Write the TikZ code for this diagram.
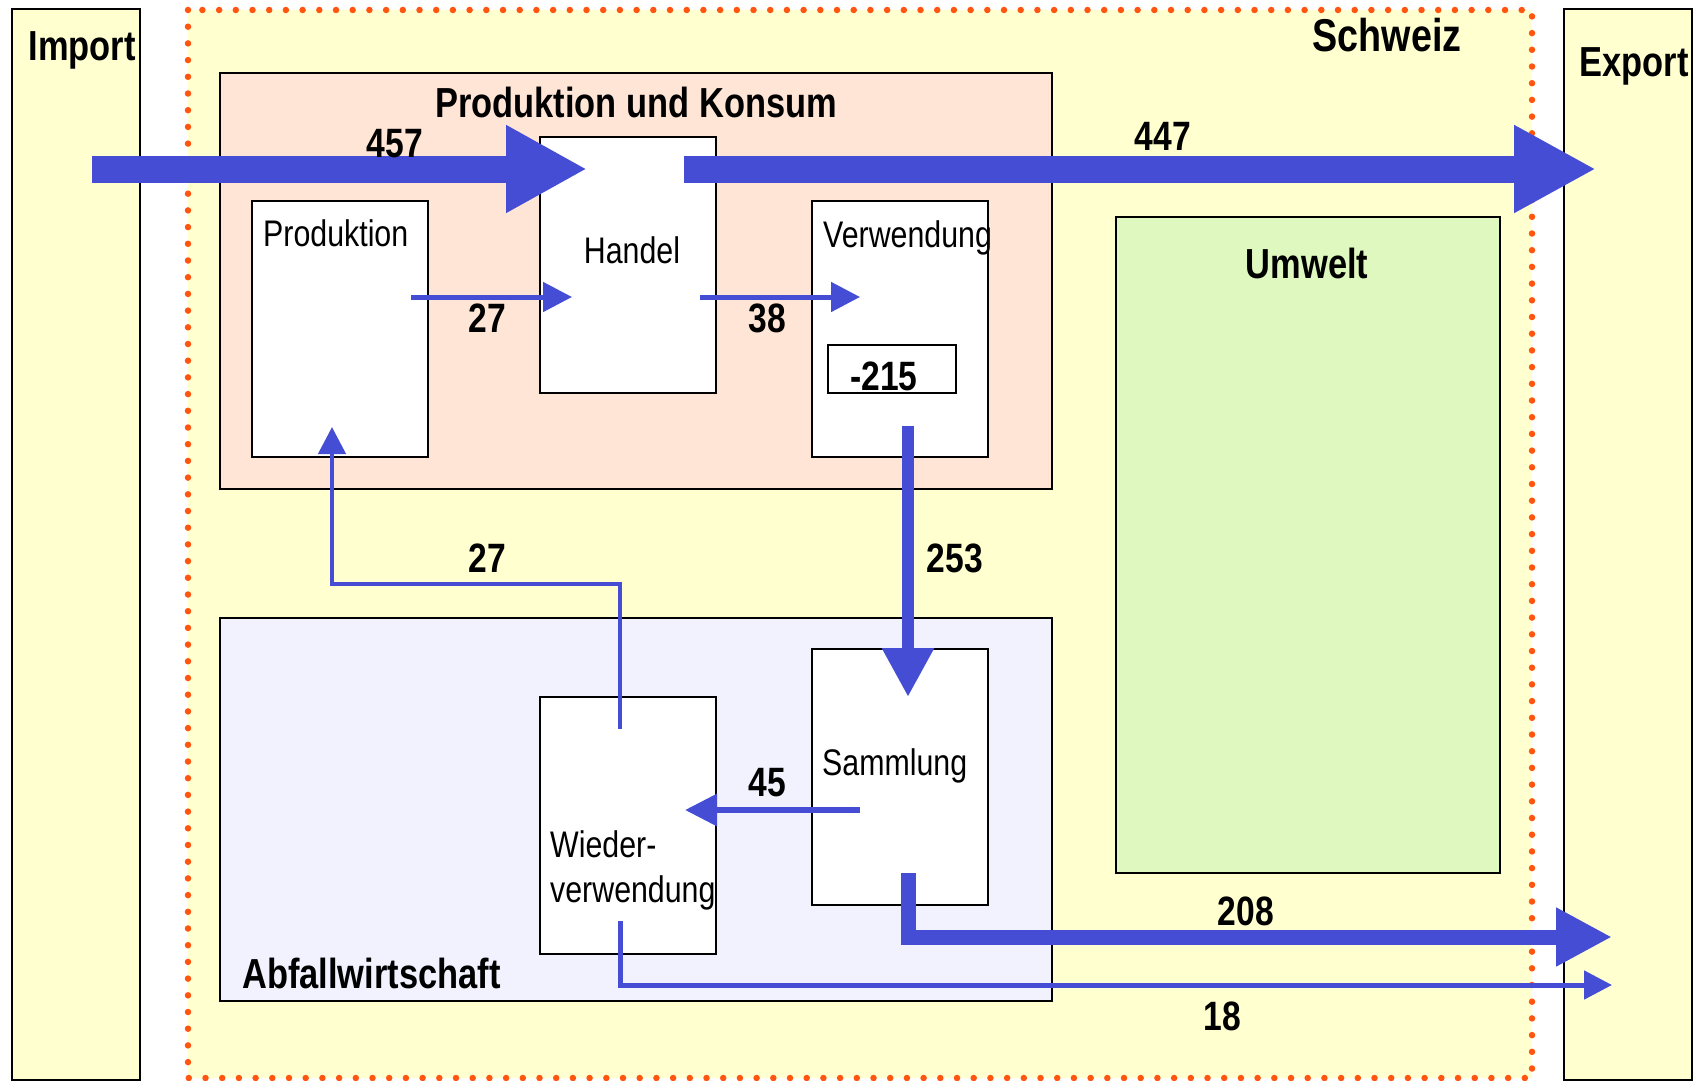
\documentclass[tikz,border=0pt]{standalone}
\usepackage{fontspec}
\setmainfont{Liberation Sans}[FakeStretch=0.82]
\usetikzlibrary{arrows.meta}
\definecolor{bgyel}{HTML}{FFFFD0}
\definecolor{peach}{HTML}{FFE5D5}
\definecolor{lav}{HTML}{F2F2FF}
\definecolor{ugreen}{HTML}{DFF8C0}
\definecolor{flowc}{HTML}{444DD4}
\definecolor{dotor}{HTML}{FF5511}
\begin{document}
\begin{tikzpicture}[x=1pt,y=-1pt,
  box/.style={draw=black, line width=1.6pt, anchor=north west, inner sep=0pt, outer sep=0pt},
  head/.style={font=\fontsize{42}{50}\selectfont\bfseries, inner sep=0pt, anchor=base},
  num/.style={font=\fontsize{41}{48}\selectfont\bfseries, inner sep=0pt, anchor=base},
  lbl/.style={font=\fontsize{37}{44}\selectfont, inner sep=0pt, anchor=base west},
  flowline/.style={draw=flowc, line width=#1},
]
\useasboundingbox (0,0) rectangle (1702,1081);
\fill[white] (0,0) rectangle (1702,1081);
% Schweiz region
\fill[bgyel] (188,10) rectangle (1532,1078);
\draw[dotor, line width=6.5pt, line cap=round, dash pattern=on 0pt off 16.7pt] (188,10) rectangle (1532,1078);
% outer boxes
\node[box, fill=bgyel, minimum width=128pt, minimum height=1071pt] (import) at (12,9) {};
\node[box, fill=bgyel, minimum width=128pt, minimum height=1071pt] (export) at (1564,9) {};
\node[box, fill=peach, minimum width=832pt, minimum height=416pt] (pk) at (220,73) {};
\node[box, fill=white, minimum width=176pt, minimum height=256pt] (prod) at (252,201) {};
\node[box, fill=white, minimum width=176pt, minimum height=256pt] (handel) at (540,137) {};
\node[box, fill=white, minimum width=176pt, minimum height=256pt] (verw) at (812,201) {};
\node[box, fill=white, minimum width=128pt, minimum height=48pt] (lager) at (828,345) {};
\node[box, fill=ugreen, minimum width=384pt, minimum height=656pt] (umwelt) at (1116,217) {};
\node[box, fill=lav, minimum width=832pt, minimum height=383pt] (abfall) at (220,618) {};
\node[box, fill=white, minimum width=176pt, minimum height=257pt] (wieder) at (540,697) {};
\node[box, fill=white, minimum width=176pt, minimum height=256pt] (samml) at (812,649) {};
% texts
\node[head] (timport) at (82,61) {Import};
\node[head] (texport) at (1634,77) {Export};
\node[head, font=\fontsize{46}{54}\selectfont\bfseries] (tschweiz) at (1387,52) {Schweiz};
\node[head] (tpk) at (636,117) {Produktion und Konsum};
\node[head] (tumwelt) at (1307,278) {Umwelt};
\node[head, anchor=base west] (tabfall) at (242,988) {Abfallwirtschaft};
\node[lbl] (tprod) at (263,246) {Produktion};
\node[lbl, anchor=base] (thandel) at (632,263) {Handel};
\node[lbl] (tverw) at (823,247) {Verwendung};
\node[lbl] (tsamml) at (822,775) {Sammlung};
\node[lbl] (twieder1) at (550,857) {Wieder-};
\node[lbl] (twieder2) at (550,902) {verwendung};
\node[num] (tlager) at (884,390) {-215};
% flow coordinates
\coordinate (f1s) at (92,169);   \coordinate (f1e) at (587,169);
\coordinate (f2s) at (684,169);  \coordinate (f2e) at (1596,169);
\coordinate (f3s) at (411,297);  \coordinate (f3e) at (572,297);
\coordinate (f4s) at (700,297);  \coordinate (f4e) at (860,297);
\coordinate (f5s) at (908,426);  \coordinate (f5e) at (908,697);
\coordinate (f6s) at (860,810);  \coordinate (f6e) at (685,810);
\coordinate (f7s) at (620,729);  \coordinate (f7e) at (332,427);
\coordinate (f8s) at (908,873);  \coordinate (f8e) at (1612,937);
\coordinate (f9s) at (620,921);  \coordinate (f9e) at (1612,985);
% flows
\draw[flowline=27pt, -{Triangle[length=81pt,width=82pt]}] (f1s) -- (f1e);
\draw[flowline=27pt, -{Triangle[length=82pt,width=82pt]}] (f2s) -- (f2e);
\draw[flowline=5pt, -{Triangle[length=29pt,width=29pt]}] (f3s) -- (f3e);
\draw[flowline=5pt, -{Triangle[length=29pt,width=29pt]}] (f4s) -- (f4e);
\draw[flowline=12pt, -{Triangle[length=49pt,width=49pt]}] (f5s) -- (f5e);
\draw[flowline=6pt, -{Triangle[length=32pt,width=31pt]}] (f6s) -- (f6e);
\draw[flowline=4.5pt, -{Triangle[length=27pt,width=27pt]}] (f7s) |- (332,584) -- (f7e);
\draw[flowline=15pt, -{Triangle[length=56pt,width=55pt]}] (f8s) |- (f8e);
\draw[flowline=5pt, -{Triangle[length=28pt,width=28pt]}] (f9s) |- (f9e);
% flow labels
\node[num] (n457) at (395,157) {457};
\node[num] (n447) at (1163,150) {447};
\node[num] (n27a) at (487,332) {27};
\node[num] (n38) at (767,332) {38};
\node[num] (n27b) at (487,572) {27};
\node[num] (n253) at (955,572) {253};
\node[num] (n45) at (767,796) {45};
\node[num] (n208) at (1246,925) {208};
\node[num] (n18) at (1222,1030) {18};
\end{tikzpicture}
\end{document}
